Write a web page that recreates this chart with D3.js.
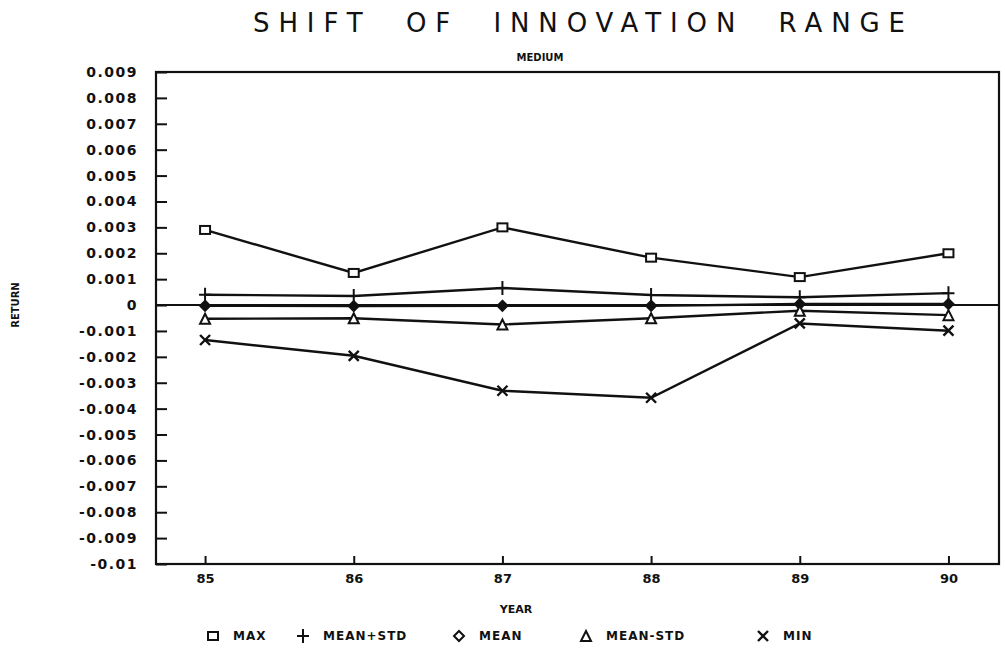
<!DOCTYPE html>
<html>
<head>
<meta charset="utf-8">
<script src="https://cdn.jsdelivr.net/npm/d3@7"></script>
<style>
  body { margin: 0; background: #fff; }
  text { font-family: "DejaVu Sans", sans-serif; fill: #111; }
</style>
</head>
<body>
<script>
var width = 1005, height = 655;

// years on the x axis
var years = [85, 86, 87, 88, 89, 90];

// series values (return)
var maxVals     = [0.0029, 0.00124, 0.0030, 0.00183, 0.00108, 0.00200];
var meanStdUp   = [0.00040, 0.00035, 0.00066, 0.00039, 0.00030, 0.00046];
var meanVals    = [-0.00003, -0.00004, -0.00003, -0.00003, 0.00004, 0.00004];
var meanStdDown = [-0.00053, -0.00051, -0.00075, -0.00051, -0.00022, -0.00039];
var minVals     = [-0.00135, -0.00196, -0.00331, -0.00358, -0.00071, -0.00099];

var yTicks = [0.009, 0.008, 0.007, 0.006, 0.005, 0.004, 0.003, 0.002, 0.001, 0,
              -0.001, -0.002, -0.003, -0.004, -0.005, -0.006, -0.007, -0.008, -0.009, -0.01];

var seriesNames = ["MAX", "MEAN+STD", "MEAN", "MEAN-STD", "MIN"];
var seriesSymbols = ["square", "plus", "diamond", "triangle", "cross"];
var seriesValues = [maxVals, meanStdUp, meanVals, meanStdDown, minVals];

var svg = d3.select("body").append("svg")
    .attr("width", width)
    .attr("height", height);

var plotLeft = 156, plotRight = 999, plotTop = 72, plotBottom = 564;

var x = d3.scaleLinear().domain([84.67, 90.34]).range([plotLeft, plotRight]);
var y = d3.scaleLinear().domain([-0.01, 0.009]).range([plotBottom, plotTop]);

// title
svg.append("text")
    .attr("x", 579).attr("y", 32)
    .attr("text-anchor", "middle")
    .style("font-size", "26px")
    .style("white-space", "pre")
    .attr("textLength", 652).attr("lengthAdjust", "spacing")
    .text("SHIFT  OF  INNOVATION  RANGE");

svg.append("text")
    .attr("x", 540).attr("y", 61)
    .attr("text-anchor", "middle")
    .style("font-size", "10px").style("font-weight", "bold")
    .text("MEDIUM");

// frame
svg.append("rect")
    .attr("x", plotLeft).attr("y", plotTop)
    .attr("width", plotRight - plotLeft).attr("height", plotBottom - plotTop)
    .attr("fill", "none").attr("stroke", "#111").attr("stroke-width", 2.2);

// y axis (ticks inward)
var yAxis = d3.axisLeft(y).tickValues(yTicks).tickSize(-11).tickPadding(18)
    .tickFormat(function(d) { return d === 0 ? "0" : String(+d.toFixed(3)); });
var gy = svg.append("g").attr("transform", "translate(" + plotLeft + ",0)").call(yAxis);
gy.select(".domain").remove();
gy.selectAll("line").attr("stroke", "#111").attr("stroke-width", 2);
gy.selectAll("text")
    .style("font-size", "14px").style("font-weight", "bold")
    .style("letter-spacing", "1.5px").attr("fill", "#111");

// x axis (ticks inward)
var xAxis = d3.axisBottom(x).tickValues(years).tickSize(-8).tickPadding(10)
    .tickFormat(d3.format("d"));
var gx = svg.append("g").attr("transform", "translate(0," + plotBottom + ")").call(xAxis);
gx.select(".domain").remove();
gx.selectAll("line").attr("stroke", "#111").attr("stroke-width", 2);
gx.selectAll("text")
    .style("font-size", "13px").style("font-weight", "bold").attr("fill", "#111");

// zero reference line
svg.append("line")
    .attr("x1", plotLeft).attr("x2", plotRight)
    .attr("y1", y(0)).attr("y2", y(0))
    .attr("stroke", "#111").attr("stroke-width", 2);

// axis titles
svg.append("text")
    .attr("x", 516).attr("y", 613)
    .attr("text-anchor", "middle")
    .style("font-size", "11px").style("font-weight", "bold")
    .text("YEAR");

svg.append("text")
    .attr("transform", "translate(19," + y(0) + ") rotate(-90)")
    .attr("text-anchor", "middle")
    .style("font-size", "10px").style("font-weight", "bold")
    .text("RETURN");

function drawSymbol(g, type, cx, cy, filled) {
    var s = 5;
    if (type == "square") {
        g.append("rect").attr("x", cx - s).attr("y", cy - s + 1)
            .attr("width", 2 * s).attr("height", 2 * s - 2)
            .attr("fill", "#fff").attr("stroke", "#111").attr("stroke-width", 2);
    } else if (type == "plus") {
        g.append("path").attr("d", "M" + (cx - 6) + "," + cy + "H" + (cx + 6) + "M" + cx + "," + (cy - 7) + "V" + (cy + 7))
            .attr("stroke", "#111").attr("stroke-width", 2);
    } else if (type == "diamond") {
        g.append("path").attr("d", "M" + cx + "," + (cy - 5) + "L" + (cx + 5) + "," + cy + "L" + cx + "," + (cy + 5) + "L" + (cx - 5) + "," + cy + "Z")
            .attr("fill", filled ? "#111" : "#fff").attr("stroke", "#111").attr("stroke-width", 2);
    } else if (type == "triangle") {
        g.append("path").attr("d", "M" + cx + "," + (cy - 5) + "L" + (cx + 5) + "," + (cy + 5) + "L" + (cx - 5) + "," + (cy + 5) + "Z")
            .attr("fill", "#fff").attr("stroke", "#111").attr("stroke-width", 2);
    } else if (type == "cross") {
        g.append("path").attr("d", "M" + (cx - 5) + "," + (cy - 5) + "L" + (cx + 5) + "," + (cy + 5) + "M" + (cx - 5) + "," + (cy + 5) + "L" + (cx + 5) + "," + (cy - 5))
            .attr("stroke", "#111").attr("stroke-width", 2.4);
    }
}

var line = d3.line()
    .x(function(d, i) { return x(years[i]); })
    .y(function(d) { return y(d); });

for (var k = 0; k < seriesValues.length; k++) {
    var g = svg.append("g");
    g.append("path")
        .attr("d", line(seriesValues[k]))
        .attr("fill", "none").attr("stroke", "#111").attr("stroke-width", 2.4);
    for (var i = 0; i < years.length; i++) {
        drawSymbol(g, seriesSymbols[k], x(years[i]), y(seriesValues[k][i]), true);
    }
}

// legend
var legendY = 640;
var legendStart = [213, 303, 459, 586, 763];
var lg = svg.append("g");
for (var k = 0; k < seriesNames.length; k++) {
    drawSymbol(lg, seriesSymbols[k], legendStart[k], legendY - 4, false);
    lg.append("text")
        .attr("x", legendStart[k] + 20).attr("y", legendY)
        .style("font-size", "12px").style("font-weight", "bold")
        .style("letter-spacing", "1px")
        .text(seriesNames[k]);
}
</script>
</body>
</html>
